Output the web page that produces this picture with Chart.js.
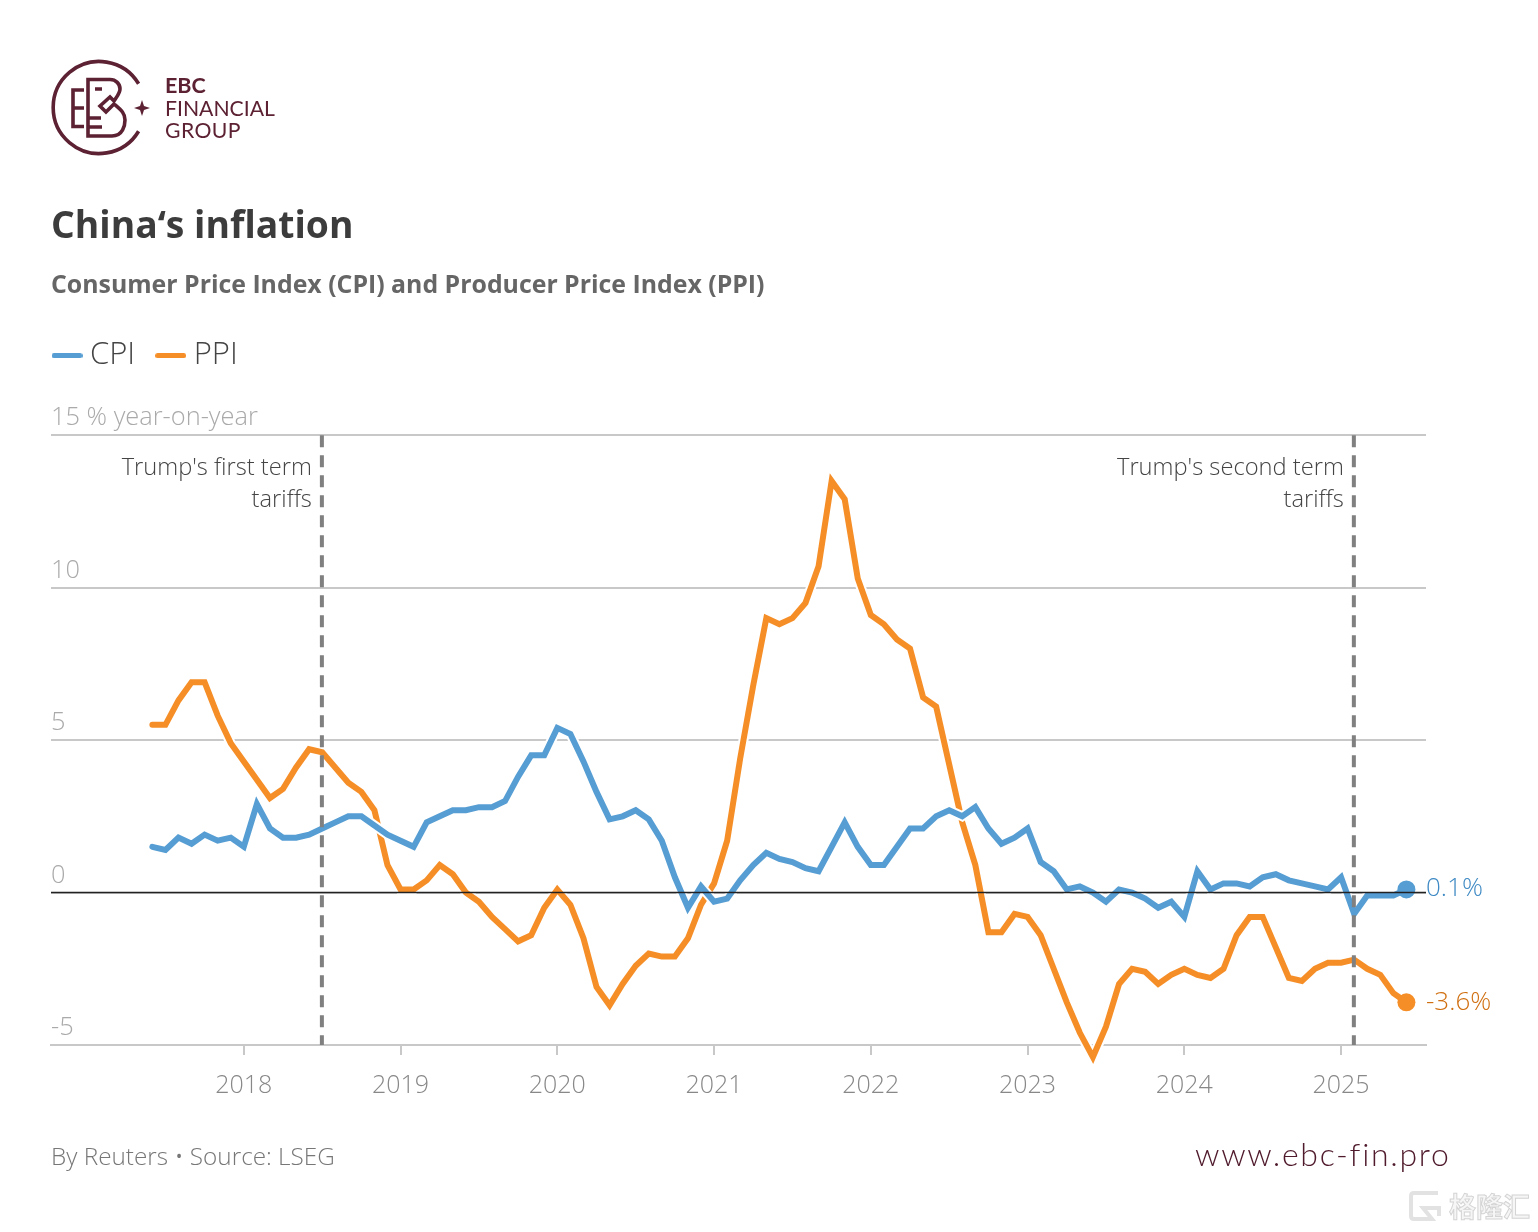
<!DOCTYPE html>
<html><head><meta charset="utf-8">
<script src="https://cdn.jsdelivr.net/npm/chart.js@4"></script>
<style>
html,body{margin:0;padding:0;background:#fff;width:1538px;height:1232px;overflow:hidden}
#wrap{position:relative;width:1538px;height:1232px}
canvas{position:absolute;left:0;top:0}
.abs{position:absolute;white-space:nowrap}
</style></head><body>
<div id="wrap">
<canvas id="c" width="1538" height="1232"></canvas>
<svg class="abs" style="left:0;top:0" width="320" height="180" viewBox="0 0 320 180">
 <g fill="none" stroke="#5c2133" stroke-width="3.6">
  <path d="M138.600 83.800 A46 46 0 1 0 138.600 131.200"/>
  <path d="M84 90H73V126.500H84M73 108H84"/>
  <path d="M88 79.500V136H112C123 136 125 125 125 120C125 113 121 110 114 104L106 112L100 106L110 97L114 101C118 95 120 93 120 89C120 84 116 79.500 110 79.500Z"/>
  <path d="M88 118H101M88 127H102M95 89H102"/>
 </g>
 <path d="M142 100 L144 106 L150 108 L144 110 L142 116 L140 110 L134 108 L140 106Z" fill="#5c2133"/>
 <text x="165" y="93" font-family="Lato" font-weight="700" font-size="21.500" fill="#5c2133">EBC</text>
 <text x="165" y="115.500" font-family="Lato" font-weight="400" font-size="21.200" fill="#5c2133">FINANCIAL</text>
 <text x="165" y="137.500" font-family="Lato" font-weight="400" font-size="21.200" letter-spacing="0.400" fill="#5c2133">GROUP</text>
</svg>
<div class="abs" style="left:51px;top:1139px;font:300 24.300px 'Open Sans';color:#777">By Reuters • Source: LSEG</div>
<div class="abs" style="left:1195px;top:1134px;font:300 32px Lato;letter-spacing:1.700px;color:#4f1a2b">www.ebc-fin.pro</div>
<svg class="abs" style="left:1408px;top:1188px" width="34" height="35"><path d="M30 5H6Q3 5 3 8V28Q3 31 6 31H24L15 20H31V28" fill="none" stroke="#e2e2e2" stroke-width="4"/></svg>
<div class="abs" style="left:1449px;top:1188px;font:700 27px/36px 'Noto Sans CJK SC';color:#f6f6f6;-webkit-text-stroke:1px #d4d4d4">格隆汇</div>
</div>
<script>
const startYear = 2017, startMonth = 6;
const years = [2018,2019,2020,2021,2022,2023,2024,2025];
const cpi = [1.5,1.4,1.8,1.6,1.9,1.7,1.8,
 1.5,2.9,2.1,1.8,1.8,1.9,2.1,2.3,2.5,2.5,2.2,1.9,
 1.7,1.5,2.3,2.5,2.7,2.7,2.8,2.8,3.0,3.8,4.5,4.5,
 5.4,5.2,4.3,3.3,2.4,2.5,2.7,2.4,1.7,0.5,-0.5,0.2,
 -0.3,-0.2,0.4,0.9,1.3,1.1,1.0,0.8,0.7,1.5,2.3,1.5,
 0.9,0.9,1.5,2.1,2.1,2.5,2.7,2.5,2.8,2.1,1.6,1.8,
 2.1,1.0,0.7,0.1,0.2,0.0,-0.3,0.1,0.0,-0.2,-0.5,-0.3,
 -0.8,0.7,0.1,0.3,0.3,0.2,0.5,0.6,0.4,0.3,0.2,0.1,
 0.5,-0.7,-0.1,-0.1,-0.1,0.1];
const ppi = [5.5,5.5,6.3,6.9,6.9,5.8,4.9,
 4.3,3.7,3.1,3.4,4.1,4.7,4.6,4.1,3.6,3.3,2.7,0.9,
 0.1,0.1,0.4,0.9,0.6,0.0,-0.3,-0.8,-1.2,-1.6,-1.4,-0.5,
 0.1,-0.4,-1.5,-3.1,-3.7,-3.0,-2.4,-2.0,-2.1,-2.1,-1.5,-0.4,
 0.3,1.7,4.4,6.8,9.0,8.8,9.0,9.5,10.7,13.5,12.9,10.3,
 9.1,8.8,8.3,8.0,6.4,6.1,4.2,2.3,0.9,-1.3,-1.3,-0.7,
 -0.8,-1.4,-2.5,-3.6,-4.6,-5.4,-4.4,-3.0,-2.5,-2.6,-3.0,-2.7,
 -2.5,-2.7,-2.8,-2.5,-1.4,-0.8,-0.8,-1.8,-2.8,-2.9,-2.5,-2.3,
 -2.3,-2.2,-2.5,-2.7,-3.3,-3.6];
const yTicks = [-5,0,5,10,15];
const tariffMarks = [
 {year:2018, month:7, lines:["Trump's first term","tariffs"]},
 {year:2025, month:2, lines:["Trump's second term","tariffs"]}
];
const BLUE='#559dd3', ORANGE='#f68e27', BLUE_TXT='#3f8ac4', ORANGE_TXT='#d06f10';
const FONT="'Open Sans'";
const idx=(y,m)=>(y-startYear)*12+(m-startMonth);
const pts=a=>a.map((y,i)=>({x:i,y}));
function swatch(color){
  const c=document.createElement('canvas');c.width=31;c.height=5;
  const g=c.getContext('2d');g.strokeStyle=color;g.lineWidth=5;g.lineCap='round';
  g.beginPath();g.moveTo(2.5,2.5);g.lineTo(28.5,2.5);g.stroke();return c;
}
const overlay={
 id:'overlay',
 afterLayout(ch){ch.legend.left-=19.5;},
 afterDatasetsDraw(ch){
  const {ctx,chartArea:a,scales:{x,y}}=ch;
  ctx.save();
  ctx.strokeStyle='#222';ctx.lineWidth=1.6;
  ctx.beginPath();ctx.moveTo(a.left,y.getPixelForValue(0));ctx.lineTo(a.right,y.getPixelForValue(0));ctx.stroke();
  tariffMarks.forEach(t=>{
    const px=x.getPixelForValue(idx(t.year,t.month))-0.3;
    ctx.strokeStyle='#808080';ctx.lineWidth=4;ctx.setLineDash([12,8]);
    ctx.beginPath();ctx.moveTo(px,y.getPixelForValue(15));ctx.lineTo(px,y.getPixelForValue(-5));ctx.stroke();
    ctx.setLineDash([]);
    ctx.font=`300 23.700px ${FONT}`;ctx.fillStyle='#444';ctx.textAlign='right';ctx.textBaseline='middle';
    t.lines.forEach((l,i)=>ctx.fillText(l,px-10,y.getPixelForValue(15)+33+i*32));
  });
  const last=cpi.length-1;
  ctx.font=`300 26px ${FONT}`;ctx.textAlign='left';ctx.textBaseline='middle';
  ctx.fillStyle=BLUE_TXT;ctx.fillText(cpi[last].toFixed(1)+'%',a.right,y.getPixelForValue(cpi[last])-1);
  ctx.fillStyle=ORANGE_TXT;ctx.fillText(ppi[last].toFixed(1)+'%',a.right,y.getPixelForValue(ppi[last]));
  ctx.restore();
 }
};
const lastRadius=c=>c.dataIndex===cpi.length-1?9:0;
const line=(label,data,color,width,order,dot)=>({label,data:pts(data),xAxisID:'x',yAxisID:'y',borderColor:color,backgroundColor:color,borderWidth:width,order,clip:false,
 borderJoinStyle:'miter',borderCapStyle:'round',tension:0,pointRadius:dot?lastRadius:0,pointHoverRadius:0,pointBorderWidth:0});
new Chart(document.getElementById('c'),{
 type:'line',
 data:{datasets:[
  line('CPI',cpi,BLUE,6,0,true),
  line('',cpi,'#fff',10,1,false),
  line('PPI',ppi,ORANGE,6,2,true),
  line('',ppi,'#fff',10,3,false)
 ]},
 options:{
  responsive:false,animation:false,devicePixelRatio:1,
  layout:{padding:{left:51,right:112,top:0,bottom:0}},
  plugins:{
   tooltip:{enabled:false},
   title:{display:true,text:'China‘s inflation',align:'start',color:'#3c3c3c',font:{family:FONT,size:37.300,weight:'700',lineHeight:1},padding:{top:209,bottom:0}},
   subtitle:{display:true,text:'Consumer Price Index (CPI) and Producer Price Index (PPI)',align:'start',color:'#666',font:{family:FONT,size:24.850,weight:'700',lineHeight:1},padding:{top:27,bottom:14}},
   legend:{display:true,position:'top',align:'start',
    labels:{usePointStyle:true,pointStyleWidth:15,padding:28,color:'#444',font:{family:FONT,size:31,weight:'300'},
     generateLabels:()=>[{text:'CPI',pointStyle:swatch(BLUE),datasetIndex:0,fontColor:'#444'},{text:'PPI',pointStyle:swatch(ORANGE),datasetIndex:2,fontColor:'#444'}]}}
  },
  scales:{
   pad:{type:'linear',position:'top',weight:0,display:true,ticks:{display:false},grid:{display:false},border:{display:false},afterFit:s=>{s.height=54;}},
   x:{type:'linear',position:'bottom',min:-7.76,max:97.5,
    afterFit:s=>{s.height=187;},
    afterBuildTicks:s=>{s.ticks=years.map(v=>({value:idx(v,1)}));},
    border:{color:'#c8c8c8',width:2},
    grid:{drawOnChartArea:false,color:'#c8c8c8',lineWidth:2,tickLength:10},
    ticks:{autoSkip:false,maxRotation:0,padding:16,color:'#888',font:{family:FONT,size:25,weight:'300'},
     callback:v=>String(startYear+Math.floor((v+startMonth-1)/12))}},
   y:{min:-5,max:15,position:'left',
    afterBuildTicks:s=>{s.ticks=yTicks.map(v=>({value:v}));},
    border:{display:false},
    grid:{color:'#c8c8c8',lineWidth:2,drawTicks:false},
    ticks:{mirror:true,padding:0,labelOffset:-17,color:'#aaa',font:{family:FONT,size:25.400,weight:'300'},
     callback:v=>v===15?'15 % year-on-year':String(v)}}
  }
 },
 plugins:[overlay]
});
</script>
</body></html>
